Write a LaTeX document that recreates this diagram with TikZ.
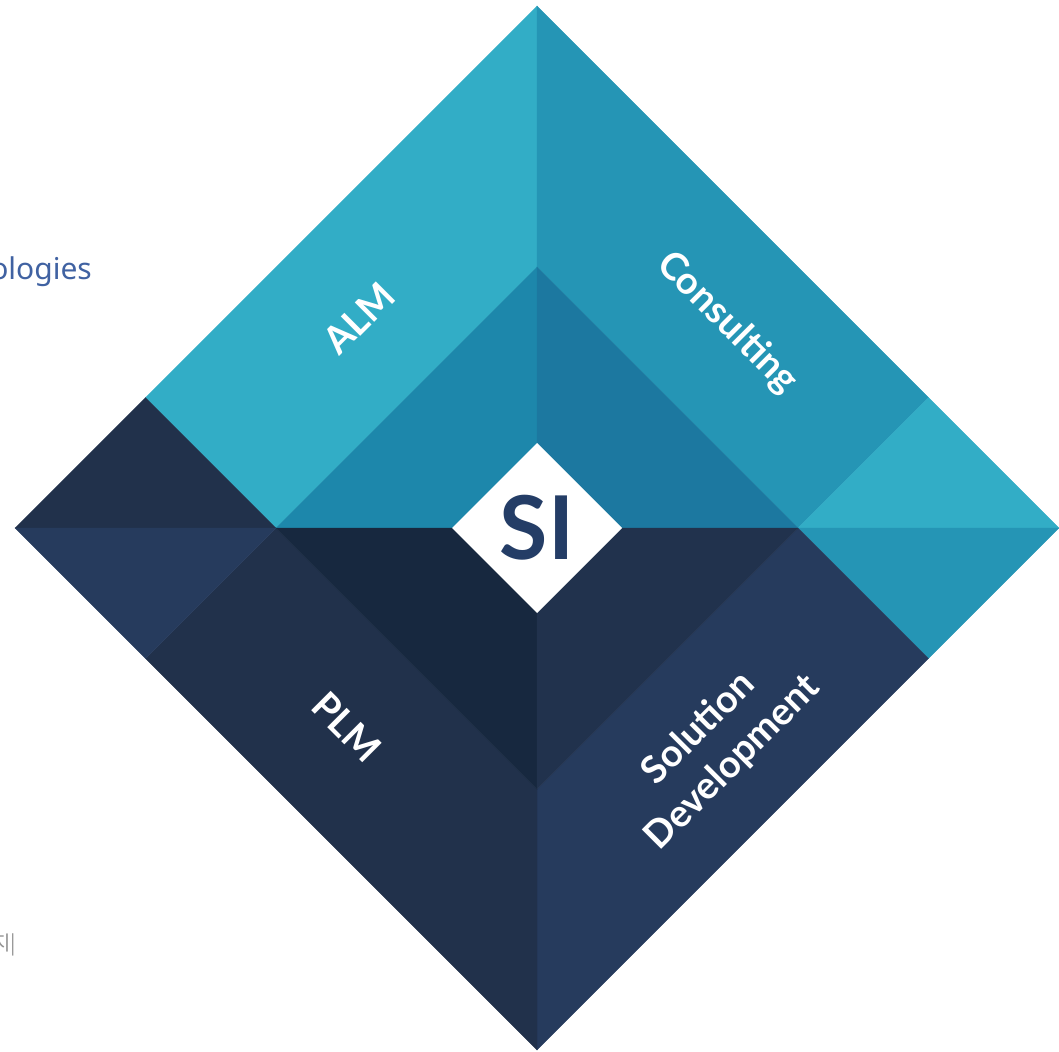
\documentclass[tikz,border=0pt]{standalone}
\usepackage{fontspec}
\setmainfont{Noto Sans}
\newfontfamily\krfont{Noto Sans CJK KR}
\newfontfamily\lblfont{Lato}
\usepackage{xcolor}
\definecolor{almteal}{HTML}{32ADC6}
\definecolor{consteal}{HTML}{2595B5}
\definecolor{innertl}{HTML}{1D87AB}
\definecolor{innertr}{HTML}{1C78A0}
\definecolor{plmnavy}{HTML}{21314B}
\definecolor{solnavy}{HTML}{263B5D}
\definecolor{innerbl}{HTML}{17283F}
\definecolor{innerbr}{HTML}{21324D}
\definecolor{sinavy}{HTML}{243D66}
\definecolor{techblue}{HTML}{4062A2}

\begin{document}
\begin{tikzpicture}[x=1pt,y=-1pt,
  lbl/.style={text=white,inner sep=0pt,align=center,font=\lblfont\bfseries\fontsize{38}{48}\selectfont},
  tile/.style={line width=0.3pt,draw=#1,fill=#1}]
 \useasboundingbox (0,0) rectangle (1059,1051);
 \node[anchor=base east,inner sep=0pt,text=techblue,font=\fontsize{30}{36}\selectfont] (tech) at (92,279) {ologies};
 \node[anchor=base east,inner sep=0pt,text=gray!85,font=\krfont\fontsize{20}{24}\selectfont] (kr) at (16,950) {지|};

 \path[tile=almteal] (145.5,397.5) -- (537,6) -- (537,267) -- (276,528) -- cycle;
 \path[tile=consteal] (537,6) -- (928.5,397.5) -- (798,528) -- (537,267) -- cycle;
 \path[tile=almteal] (798,528) -- (928.5,397.5) -- (1059,528) -- cycle;
 \path[tile=consteal] (798,528) -- (1059,528) -- (928.5,658.5) -- cycle;
 \path[tile=solnavy] (798,528) -- (928.5,658.5) -- (537,1050) -- (537,789) -- cycle;
 \path[tile=plmnavy] (276,528) -- (537,789) -- (537,1050) -- (145.5,658.5) -- cycle;
 \path[tile=plmnavy] (15,528) -- (145.5,397.5) -- (276,528) -- cycle;
 \path[tile=solnavy] (15,528) -- (276,528) -- (145.5,658.5) -- cycle;

 \path[tile=innertl] (276,528) -- (537,267) -- (537,528) -- cycle;
 \path[tile=innertr] (537,267) -- (798,528) -- (537,528) -- cycle;
 \path[tile=innerbl] (276,528) -- (537,528) -- (537,789) -- cycle;
 \path[tile=innerbr] (537,528) -- (798,528) -- (537,789) -- cycle;
 \path[fill=white] (537,443) -- (622,528) -- (537,613) -- (452,528) -- cycle;

 \node[inner sep=0pt,text=sinavy,font=\lblfont\bfseries\fontsize{88}{88}\selectfont] (si) at (537,528) {SI};
 \node[lbl,rotate=45] (alm) at (359,318) {ALM};
 \node[lbl,rotate=-45] (consulting) at (727,323) {Consulting};
 \node[lbl,rotate=-45] (plm) at (347,727) {PLM};
 \node[lbl,rotate=45] (soldev) at (716,746) {Solution\\Development};
\end{tikzpicture}
\end{document}
